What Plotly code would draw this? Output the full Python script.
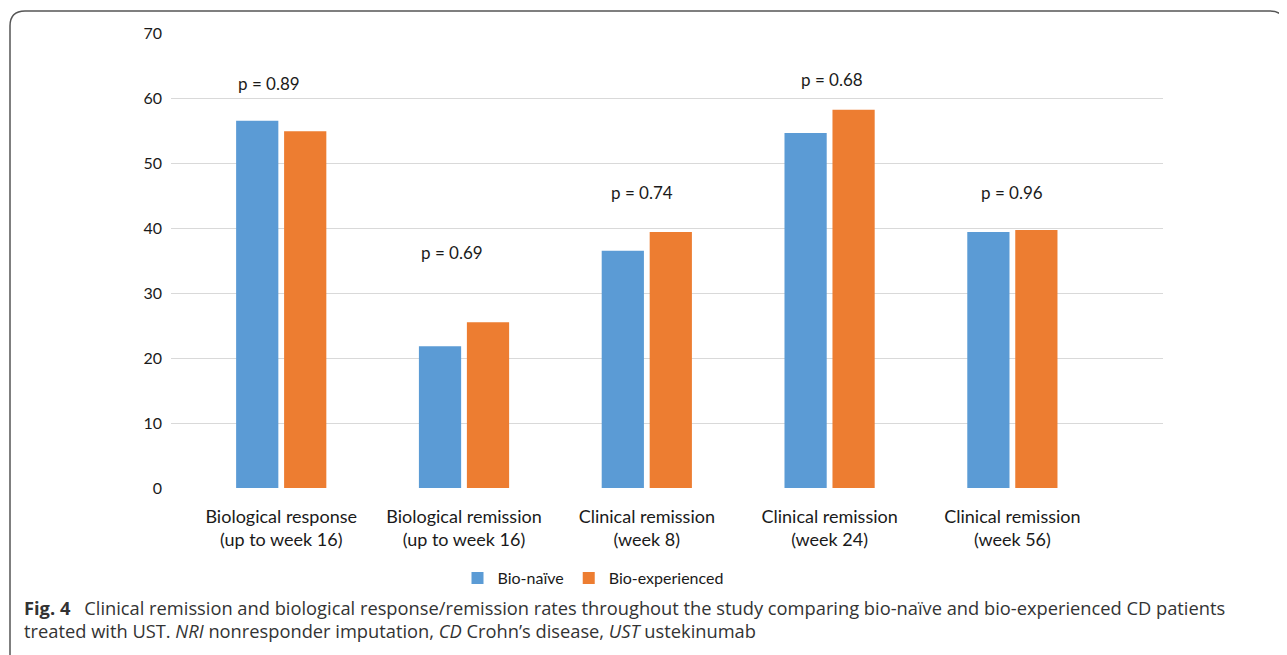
import plotly.graph_objects as go

categories = [
    "Biological response<br>(up to week 16)",
    "Biological remission<br>(up to week 16)",
    "Clinical remission<br>(week 8)",
    "Clinical remission<br>(week 24)",
    "Clinical remission<br>(week 56)",
]
bio_naive = [56.5, 21.8, 36.5, 54.6, 39.4]
bio_experienced = [54.9, 25.5, 39.4, 58.2, 39.7]
p_labels = ["p = 0.89", "p = 0.69", "p = 0.74", "p = 0.68", "p = 0.96"]
p_label_y = [62.3, 36.3, 45.5, 62.8, 45.5]
p_label_xshift = [-12, -12, -5, 2, 0]
y_ticks = [0, 10, 20, 30, 40, 50, 60, 70]

BLUE = "#5B9BD5"
ORANGE = "#ED7D31"
FONT = "Lato, 'Open Sans', sans-serif"
CAP_FONT = "'Open Sans', 'Noto Sans', sans-serif"

# page offset (default body margin) compensated
OFF = 8
W, H = 1287 - OFF, 655 - OFF
# plot area in screen pixels
SL, SR, ST, SB = 171, 1163, 33, 488
L, R, T, B = SL - OFF, SR - OFF, ST - OFF, SB - OFF
pw, ph = R - L, B - T


def px(x):
    return (x - SL) / pw


def py(y):
    return (SB - y) / ph


fig = go.Figure()
fig.add_trace(go.Bar(name="Bio-naïve", x=categories, y=bio_naive,
                     marker=dict(color=BLUE, line=dict(width=0))))
fig.add_trace(go.Bar(name="Bio-experienced", x=categories, y=bio_experienced,
                     marker=dict(color=ORANGE, line=dict(width=0))))

for i, (lab, yv, xs) in enumerate(zip(p_labels, p_label_y, p_label_xshift)):
    fig.add_annotation(x=categories[i], y=yv, text=lab, showarrow=False,
                       xshift=xs, font=dict(family=FONT, size=17, color="#1a1a1a"))

# caption
fig.add_annotation(
    xref="paper", yref="paper", x=px(22), y=py(607), xanchor="left", yanchor="middle",
    text="<b>Fig. 4</b>\u2002 Clinical remission and biological response/remission rates throughout the study comparing bio-naïve and bio-experienced CD patients",
    showarrow=False, font=dict(family=CAP_FONT, size=18.3, color="#333333"), align="left")
fig.add_annotation(
    xref="paper", yref="paper", x=px(22), y=py(630), xanchor="left", yanchor="middle",
    text="treated with UST. <i>NRI</i> nonresponder imputation, <i>CD</i> Crohn’s disease, <i>UST</i> ustekinumab",
    showarrow=False, font=dict(family=CAP_FONT, size=18.3, color="#333333"), align="left")

# rounded frame
x0, x1 = px(10), px(1285)
y_top, y_bot = py(11), py(700)
rx, ry = 15 / pw, 15 / ph
path = (f"M {x0},{y_bot} L {x0},{y_top - ry} Q {x0},{y_top} {x0 + rx},{y_top} "
        f"L {x1 - rx},{y_top} Q {x1},{y_top} {x1},{y_top - ry} L {x1},{y_bot}")
fig.add_shape(type="path", xref="paper", yref="paper", path=path,
              line=dict(color="#555555", width=1.5))

fig.update_layout(
    width=W, height=H,
    margin=dict(l=L, r=W - R, t=T, b=H - B, pad=0),
    paper_bgcolor="white", plot_bgcolor="white",
    barmode="group", bargap=0.475, bargroupgap=0.12,
    showlegend=True,
    legend=dict(orientation="h", x=px(593), y=py(578), xanchor="center", yanchor="middle",
                font=dict(family=FONT, size=16, color="#1a1a1a"), itemwidth=30,
                traceorder="normal"),
    font=dict(family=FONT, color="#1a1a1a"),
)
fig.update_xaxes(range=[-0.603, 4.824], showgrid=False, zeroline=False, showline=False,
                 tickfont=dict(family=FONT, size=18, color="#1a1a1a"), ticks="",
                 ticklabelstandoff=16)
fig.update_yaxes(range=[0, 70], tickvals=y_ticks, showgrid=True, gridcolor="#D9D9D9",
                 gridwidth=1.3, zeroline=False, showline=False,
                 tickfont=dict(family=FONT, size=16, color="#1a1a1a"), ticks="",
                 ticklabelstandoff=8)

fig.write_html("out.html")
